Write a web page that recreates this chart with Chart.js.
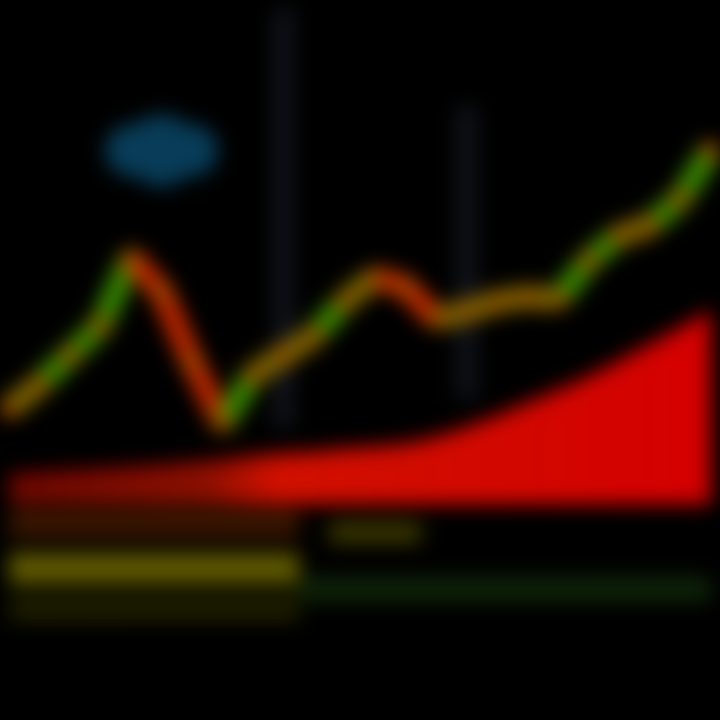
<!DOCTYPE html>
<html>
<head>
<meta charset="utf-8">
<script src="https://cdn.jsdelivr.net/npm/chart.js@4.4.1/dist/chart.umd.min.js"></script>
<style>
  html, body { margin: 0; padding: 0; background: #000; overflow: hidden; }
  #wrap { width: 720px; height: 720px; position: relative; }
  #chart { filter: blur(10px); }
</style>
</head>
<body>
<div id="wrap"><canvas id="chart"></canvas></div>
<script>
// Session labels (24 periods)
const labels = ['1','2','3','4','5','6','7','8','9','10','11','12','13','14','15','16','17','18','19','20','21','22','23','24'];

// Price line
const price = [310, 335, 365, 395, 465, 430, 358, 295, 345, 365, 385, 420, 445, 435, 402, 410, 420, 425, 422, 462, 488, 498, 525, 575];

// Red filled area (top edge), base value
const areaTop = [240, 242, 244, 246, 248, 250, 253, 256, 260, 263, 265, 268, 270, 273, 280, 290, 302, 315, 328, 342, 358, 375, 392, 410];
const areaBase = 212;

// Volume bands as floating bars [low, high]
const brownBand = [[178,206],[178,206],[178,206],[178,206],[178,206],[178,206],[178,206],[178,206],[178,206],[178,206],null,null,null,null,null,null,null,null,null,null,null,null,null,null];
const yellowBand = [[130,162],[130,162],[130,162],[130,162],[130,162],[130,162],[130,162],[130,162],[130,162],[130,162],null,null,null,null,null,null,null,null,null,null,null,null,null,null];
const dimBand = [[92,118],[92,118],[92,118],[92,118],[92,118],[92,118],[92,118],[92,118],[92,118],[92,118],null,null,null,null,null,null,null,null,null,null,null,null,null,null];
const greenBand = [null,null,null,null,null,null,null,null,null,null,[112,138],[112,138],[112,138],[112,138],[112,138],[112,138],[112,138],[112,138],[112,138],[112,138],[112,138],[112,138],[112,138],[112,138]];
const olivePatch = [null,null,null,null,null,null,null,null,null,null,null,[172,194],[172,194],[172,194],null,null,null,null,null,null,null,null,null,null];

// Vertical marker lines
const markers = [null,null,null,null,null,null,null,null,null,[290,720],null,null,null,null,null,[320,620],null,null,null,null,null,null,null,null];

// Blue glow
const glow = [null,null,null,null,575,575,575,null,null,null,null,null,null,null,null,null,null,null,null,null,null,null,null,null];
const glowRadius = [0,0,0,0,26,36,26,0,0,0,0,0,0,0,0,0,0,0,0,0,0,0,0,0];

function segColor(ctx) {
  const d = ctx.p1.parsed.y - ctx.p0.parsed.y;
  if (d < -8) return '#c42800';
  if (d > 25) return '#3a8c00';
  return '#7a6a00';
}

function areaFill(context) {
  const chart = context.chart;
  const area = chart.chartArea;
  if (!area) return '#c00000';
  const g = chart.ctx.createLinearGradient(area.left, 0, area.right, 0);
  g.addColorStop(0, '#6a0800');
  g.addColorStop(0.28, '#8a1000');
  g.addColorStop(0.38, '#d01000');
  g.addColorStop(1, '#d40000');
  return g;
}

const bandOpts = { type: 'bar', grouped: false, categoryPercentage: 1, barPercentage: 1, borderWidth: 0, order: 3 };

new Chart(document.getElementById('chart'), {
  type: 'bar',
  data: {
    labels: labels,
    datasets: [
      { type: 'bar', grouped: false, borderWidth: 0, data: markers, backgroundColor: '#10131a', barThickness: 20, order: 4 },
      Object.assign({ data: brownBand, backgroundColor: '#3a1600' }, bandOpts),
      Object.assign({ data: yellowBand, backgroundColor: '#5e5800' }, bandOpts),
      Object.assign({ data: dimBand, backgroundColor: '#1e1e00' }, bandOpts),
      Object.assign({ data: greenBand, backgroundColor: '#0e2208' }, bandOpts),
      Object.assign({ data: olivePatch, backgroundColor: '#3a3600' }, bandOpts),
      {
        type: 'line',
        data: areaTop,
        borderColor: '#b00000',
        borderWidth: 4,
        backgroundColor: areaFill,
        fill: { value: areaBase },
        pointRadius: 0,
        tension: 0.3,
        order: 2
      },
      {
        type: 'line',
        data: glow,
        showLine: false,
        pointRadius: glowRadius,
        pointBackgroundColor: '#083c58',
        pointBorderWidth: 0,
        order: 5
      },
      {
        type: 'line',
        data: price,
        borderWidth: 22,
        borderColor: '#7a6a00',
        segment: { borderColor: segColor },
        pointRadius: 9,
        pointBackgroundColor: '#a85200',
        pointBorderWidth: 0,
        tension: 0,
        order: 0
      }
    ]
  },
  options: {
    responsive: true,
    maintainAspectRatio: false,
    animation: false,
    layout: { padding: 0 },
    plugins: { legend: { display: false }, tooltip: { enabled: false } },
    scales: {
      x: { display: false, offset: false },
      y: { display: false, min: 0, max: 720 }
    }
  }
});
</script>
</body>
</html>
